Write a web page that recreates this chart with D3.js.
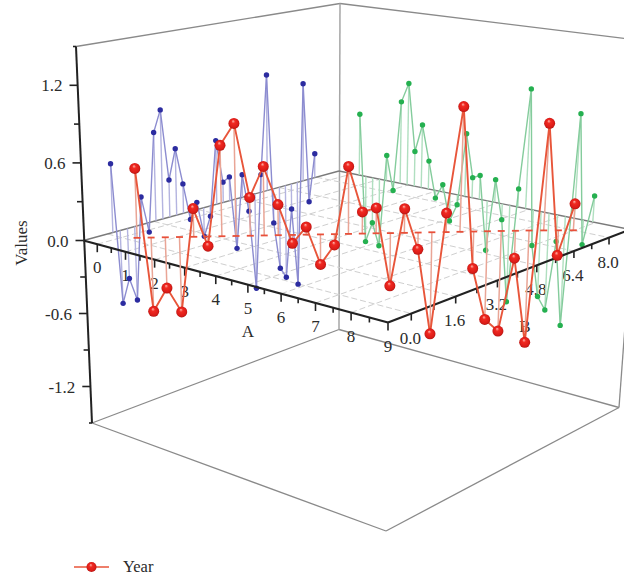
<!DOCTYPE html>
<html>
<head>
<meta charset="utf-8">
<script src="https://cdn.jsdelivr.net/npm/d3@7"></script>
<style>
  html, body { margin: 0; background: #fff; }
  text { font-family: "Liberation Serif", serif; fill: #2b2b2b; }
</style>
</head>
<body>
<div class="chart"></div>
<script>
// data: one curve along the floor diagonal, also drawn on the two back walls
var posA = [0.25, 0.49, 0.735, 0.98, 1.23, 1.47, 1.715, 1.96, 2.21, 2.45, 2.695, 2.94, 3.18, 3.43, 3.675, 3.92,
            4.16, 4.40, 4.655, 4.90, 5.14, 5.38, 5.635, 5.88, 6.12, 6.36, 6.605, 6.86, 7.10, 7.37, 7.64, 7.92];
var posB = [0.18, 0.43, 0.68, 0.93, 1.18, 1.43, 1.68, 1.93, 2.18, 2.43, 2.68, 2.93, 3.18, 3.43, 3.68, 3.93,
            4.18, 4.43, 4.68, 4.93, 5.18, 5.43, 5.68, 5.93, 6.18, 6.43, 6.68, 6.93, 7.18, 7.43, 7.68, 7.93];
var values = [0.54, -0.61, -0.42, -0.62, 0.22, -0.08, 0.71, 0.88, 0.30, 0.54, 0.24, -0.07, 0.06, -0.25, -0.09, 0.53,
              0.17, 0.20, -0.44, 0.19, -0.14, -0.85, 0.15, 0.99, -0.31, -0.74, -0.84, -0.23, -0.94, 0.85, -0.21, 0.21];

var ticksA = [0, 1, 2, 3, 4, 5, 6, 7, 8, 9];
var minorA = [0.5, 1.5, 2.5, 3.5, 4.5, 5.5, 6.5, 7.5, 8.5];
var ticksB = [0, 1.6, 3.2, 4.8, 6.4, 8.0];
var minorB = [0.8, 2.4, 4.0, 5.6, 7.2];
var ticksV = [-1.2, -0.6, 0, 0.6, 1.2];
var minorV = [-1.5, -0.9, -0.3, 0.3, 0.9, 1.5];

var minA = -0.5, maxA = 9, minB = -0.8, maxB = 9, minV = -1.5, maxV = 1.5;

// the diagonal curve sits a bit further along both floor axes than its wall copies
var diagShift = 0.06;

// dimensions
var width = 624, height = 580;

// box corners on screen, order: left, front, right, back
var topPlane = [[76, 46.5], [390, 101], [646, 41], [340, 3.5]];
var zeroPlane = [[83.5, 240.5], [388, 322.5], [630, 229.5], [339, 171]];
var bottomPlane = [[92, 423], [386, 531], [619, 407.5], [339, 329.5]];

// maps the unit square on a quad
function homography(q) {
  var x0 = q[0][0], y0 = q[0][1], x1 = q[1][0], y1 = q[1][1];
  var x2 = q[2][0], y2 = q[2][1], x3 = q[3][0], y3 = q[3][1];
  var dx1 = x1 - x2, dx2 = x3 - x2, sx = x0 - x1 + x2 - x3;
  var dy1 = y1 - y2, dy2 = y3 - y2, sy = y0 - y1 + y2 - y3;
  var den = dx1 * dy2 - dx2 * dy1;
  var g = (sx * dy2 - dx2 * sy) / den;
  var h = (dx1 * sy - sx * dy1) / den;
  var a = x1 - x0 + g * x1, b = x3 - x0 + h * x3;
  var d = y1 - y0 + g * y1, e = y3 - y0 + h * y3;
  return function(u, w) {
    var k = g * u + h * w + 1;
    return [(a * u + b * w + x0) / k, (d * u + e * w + y0) / k];
  };
}

var planes = [homography(bottomPlane), homography(zeroPlane), homography(topPlane)];

// scales
var a = d3.scaleLinear().domain([minA, maxA]).range([0, 1]);
var b = d3.scaleLinear().domain([minB, maxB]).range([0, 1]);
var v = d3.scaleLinear().domain([minV, 0, maxV]).range([0, 1, 2]);

function project(pa, pb, pv) {
  var s = v(pv);
  var i = s < 1 ? 0 : 1;
  var p = planes[i](a(pa), b(pb));
  var q = planes[i + 1](a(pa), b(pb));
  return [p[0] + (q[0] - p[0]) * (s - i), p[1] + (q[1] - p[1]) * (s - i)];
}

var svg = d3.select(".chart")
  .append("svg")
  .attr("width", width)
  .attr("height", height)
  .style("display", "block");

// sphere shading
var grad = svg.append("defs").append("radialGradient")
  .attr("id", "ball")
  .attr("cx", "50%").attr("cy", "50%").attr("r", "55%")
  .attr("fx", "42%").attr("fy", "28%");
grad.append("stop").attr("offset", "0%").attr("stop-color", "#ffb9b0");
grad.append("stop").attr("offset", "30%").attr("stop-color", "#f02a22");
grad.append("stop").attr("offset", "75%").attr("stop-color", "#dc1c18");
grad.append("stop").attr("offset", "100%").attr("stop-color", "#a51410");

var line = d3.line();

function seg(p, q, color, w, dash) {
  svg.append("path")
    .attr("d", line([p, q]))
    .attr("fill", "none")
    .attr("stroke", color)
    .attr("stroke-width", w)
    .attr("stroke-dasharray", dash || null);
}

// box frame
var frame = "#8a8a8a";
seg(project(minA, minB, maxV), project(minA, maxB, maxV), frame, 1.3);
seg(project(minA, maxB, maxV), project(maxA, maxB, maxV), frame, 1.3);
seg(project(maxA, maxB, maxV), project(maxA, maxB, minV), frame, 1.3);
seg(project(minA, minB, minV), project(maxA, minB, minV), frame, 1.3);
seg(project(maxA, minB, minV), project(maxA, maxB, minV), frame, 1.3);
seg(project(minA, minB, minV), project(minA, maxB, minV), frame, 1.3);
seg(project(minA, maxB, minV), project(maxA, maxB, minV), frame, 1.3);
seg(project(minA, maxB, maxV), project(minA, maxB, minV), "#a6a6a6", 1.5);

// floor grid at zero
ticksA.slice(0, -1).forEach(function(t) {
  seg(project(t, minB, 0), project(t, maxB, 0), "#cfcfcf", 1, "6,3");
});
ticksB.forEach(function(t) {
  seg(project(minA, t, 0), project(maxA, t, 0), "#cfcfcf", 1, "6,3");
});
seg(project(minA, minB, 0), project(minA, maxB, 0), "#7a7a7a", 1.4);
seg(project(minA, maxB, 0), project(maxA, maxB, 0), "#7a7a7a", 1.4);

// tick labels under the points
ticksA.forEach(function(t) {
  var p = project(t, minB, 0);
  svg.append("text").attr("x", p[0]).attr("y", p[1] + 29)
    .attr("text-anchor", "middle").style("font-size", "17px").text(t);
});
ticksB.forEach(function(t) {
  var p = project(maxA, t, 0);
  svg.append("text").attr("x", p[0] - 1).attr("y", p[1] + 30)
    .attr("text-anchor", "middle").style("font-size", "17px").text(t.toFixed(1));
});
ticksV.forEach(function(t) {
  var p = project(minA, minB, t);
  svg.append("text").attr("x", p[0] - 15).attr("y", p[1] + 6)
    .attr("text-anchor", "end").style("font-size", "17px").text(t.toFixed(1));
});

// axis titles
svg.append("text").attr("x", 248).attr("y", 337)
  .attr("text-anchor", "middle").style("font-size", "17px").text("A");
svg.append("text").attr("x", 525).attr("y", 332)
  .attr("text-anchor", "middle").style("font-size", "17px").text("B");
svg.append("text")
  .attr("transform", "translate(27,243) rotate(-90)")
  .attr("text-anchor", "middle").style("font-size", "17px").text("Values");

// wall projections
function wallSeries(points, lineColor, stemColor, dotColor) {
  points.forEach(function(d) {
    seg(d.base, d.top, stemColor, 1.4);
  });
  svg.append("path")
    .attr("d", line(points.map(function(d) { return d.top; })))
    .attr("fill", "none")
    .attr("stroke", lineColor)
    .attr("stroke-width", 1.4);
  svg.selectAll(null)
    .data(points)
    .enter()
    .append("circle")
    .attr("cx", function(d) { return d.top[0]; })
    .attr("cy", function(d) { return d.top[1]; })
    .attr("r", 2.7)
    .attr("fill", dotColor);
}

wallSeries(values.map(function(d, i) {
  return {base: project(minA, posB[i], 0), top: project(minA, posB[i], d)};
}), "#8c8cd0", "#b4b4e0", "#2c2ca0");

wallSeries(values.map(function(d, i) {
  return {base: project(posA[i], maxB, 0), top: project(posA[i], maxB, d)};
}), "#84cc9c", "#b0dfc0", "#25b050");

// axes
function ticks(list, pos, len, w) {
  list.forEach(function(t) {
    var p = pos(t);
    seg(p, [p[0] + len[0], p[1] + len[1]], "#222", w);
  });
}
seg(project(minA, minB, maxV), project(minA, minB, minV), "#222", 2);
seg(project(minA, minB, 0), project(maxA, minB, 0), "#222", 2.2);
seg(project(maxA, minB, 0), project(maxA, maxB, 0), "#222", 2.2);

var onV = function(t) { return project(minA, minB, t); };
var onA = function(t) { return project(t, minB, 0); };
var onB = function(t) { return project(maxA, t, 0); };
ticks(ticksV, onV, [-8, 0], 1.6);
ticks(minorV.slice(1, -1), onV, [-5, 0], 1.6);
ticks([-1.5, 1.5], onV, [-3, 0], 1.6);
ticks(ticksA, onA, [0, 8], 1.6);
ticks(minorA, onA, [0, 5], 1.6);
ticks(ticksB, onB, [0, 7], 1.6);
ticks(minorB, onB, [0, 5], 1.6);

// main series on the diagonal
var red = values.map(function(d, i) {
  var pa = posA[i] + diagShift, pb = posB[i] + diagShift;
  return {base: project(pa, pb, 0), top: project(pa, pb, d)};
});
red.forEach(function(d) {
  seg(d.base, d.top, "#e9a596", 1.5);
  seg([d.base[0] - 3.5, d.base[1]], [d.base[0] + 3.5, d.base[1]], "#e8503a", 1.8);
});
svg.append("path")
  .attr("d", line(red.map(function(d) { return d.top; })))
  .attr("fill", "none")
  .attr("stroke", "#e8553a")
  .attr("stroke-width", 1.9);
svg.selectAll(".ball")
  .data(red)
  .enter()
  .append("circle")
  .attr("class", "ball")
  .attr("cx", function(d) { return d.top[0]; })
  .attr("cy", function(d) { return d.top[1]; })
  .attr("r", 5.5)
  .attr("fill", "url(#ball)");

// legend
seg([74, 567], [109, 567], "#e8553a", 1.5);
svg.append("circle").attr("cx", 91.5).attr("cy", 567).attr("r", 5).attr("fill", "url(#ball)");
svg.append("text").attr("x", 123).attr("y", 572).style("font-size", "16.5px").text("Year");
</script>
</body>
</html>
